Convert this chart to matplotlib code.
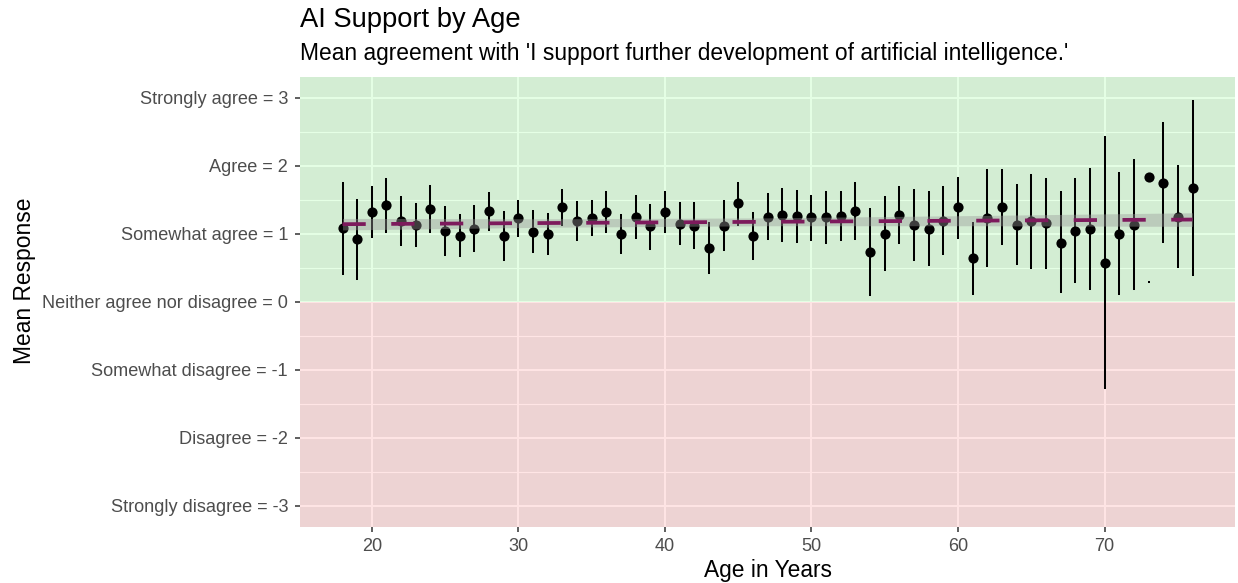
import matplotlib
matplotlib.use("Agg")
import matplotlib.pyplot as plt
import numpy as np

plt.rcParams["font.family"] = ["Liberation Sans", "DejaVu Sans"]

# mean response by age, with lower/upper interval ends
ages = list(range(18, 77))
means = [1.08, 0.92, 1.32, 1.42, 1.19, 1.13, 1.37, 1.04, 0.97, 1.07,
         1.33, 0.97, 1.23, 1.03, 1.00, 1.39, 1.19, 1.23, 1.32, 1.00,
         1.25, 1.11, 1.32, 1.15, 1.12, 0.79, 1.12, 1.45, 0.97, 1.25,
         1.27, 1.26, 1.24, 1.24, 1.26, 1.33, 0.73, 1.00, 1.27, 1.13,
         1.07, 1.19, 1.39, 0.64, 1.23, 1.39, 1.13, 1.18, 1.16, 0.87,
         1.04, 1.07, 0.57, 1.00, 1.13, 1.84, 1.75, 1.25, 1.67]
upper = [1.75, 1.50, 1.68, 1.80, 1.54, 1.44, 1.70, 1.40, 1.27, 1.41,
         1.60, 1.32, 1.48, 1.34, 1.29, 1.65, 1.47, 1.48, 1.61, 1.28,
         1.55, 1.42, 1.61, 1.45, 1.45, 1.16, 1.48, 1.75, 1.30, 1.59,
         1.66, 1.63, 1.56, 1.61, 1.61, 1.74, 1.37, 1.54, 1.68, 1.64,
         1.61, 1.68, 1.82, 1.16, 1.94, 1.94, 1.71, 1.86, 1.81, 1.61,
         1.81, 1.95, 2.42, 1.89, 2.08, 0.29, 2.63, 2.00, 2.95]
lower = [0.41, 0.33, 0.95, 1.02, 0.83, 0.82, 1.03, 0.69, 0.67, 0.74,
         1.05, 0.62, 0.97, 0.73, 0.70, 1.13, 0.90, 0.98, 1.02, 0.72,
         0.94, 0.78, 1.03, 0.85, 0.79, 0.42, 0.76, 1.13, 0.63, 0.92,
         0.89, 0.88, 0.91, 0.86, 0.91, 0.92, 0.10, 0.46, 0.86, 0.61,
         0.54, 0.70, 0.94, 0.12, 0.52, 0.85, 0.55, 0.49, 0.50, 0.14,
         0.29, 0.19, -1.27, 0.12, 0.18, 0.29, 0.88, 0.51, 0.39]

# linear fit and its confidence band
fit_ages = [18, 32, 47, 61, 76]
fit_mean = [1.14, 1.157, 1.175, 1.192, 1.208]
fit_lo = [1.055, 1.095, 1.117, 1.117, 1.108]
fit_hi = [1.225, 1.219, 1.233, 1.267, 1.308]

y_ticks = [3, 2, 1, 0, -1, -2, -3]
y_labels = ["Strongly agree = 3", "Agree = 2", "Somewhat agree = 1",
            "Neither agree nor disagree = 0", "Somewhat disagree = -1",
            "Disagree = -2", "Strongly disagree = -3"]
x_ticks = [20, 30, 40, 50, 60, 70]


def main():
    fig = plt.figure(figsize=(12.38, 5.83), dpi=100)
    ax = fig.add_axes([300 / 1238, 55.7 / 583, 935 / 1238, 450.6 / 583])
    ax.set_facecolor("#EBEBEB")
    for s in ax.spines.values():
        s.set_visible(False)

    ax.set_xlim(15.1, 78.9)
    ax.set_ylim(-3.32, 3.31)

    # grid (major + minor on y, major only on x)
    for y in np.arange(-3, 3.01, 0.5):
        lw = 1.4 if float(y).is_integer() else 0.9
        ax.axhline(y, color="white", linewidth=lw, zorder=0.5)
    for x in x_ticks:
        ax.axvline(x, color="white", linewidth=1.4, zorder=0.5)

    # agree / disagree shading
    ax.axhspan(0, 3.4, color="#00FF00", alpha=0.1, linewidth=0, zorder=1)
    ax.axhspan(-3.4, 0, color="#FF0000", alpha=0.1, linewidth=0, zorder=1)

    lo = np.array(lower)
    hi = np.array(upper)
    ax.errorbar(ages, (lo + hi) / 2, yerr=(hi - lo) / 2, fmt="none",
                ecolor="black", elinewidth=1.45, capsize=0.9, capthick=1.45,
                zorder=2)
    ax.scatter(ages, means, s=54, color="black", linewidths=0, zorder=3)

    ax.fill_between(fit_ages, fit_lo, fit_hi, color="#999999", alpha=0.4,
                    linewidth=0, zorder=4)
    ax.plot(fit_ages, fit_mean, color="#7D1A5C", linewidth=2.7,
            dashes=(6.2, 6.8), solid_capstyle="butt", dash_capstyle="butt",
            zorder=5)

    ax.set_xticks(x_ticks)
    ax.set_yticks(y_ticks)
    ax.set_yticklabels(y_labels)
    ax.tick_params(axis="both", colors="#333333", length=3.6, width=1.1,
                   labelsize=13.1, labelcolor="#4D4D4D")
    ax.tick_params(axis="y", pad=5)
    ax.tick_params(axis="x", pad=4)

    fig.text(300 / 1238, 1 - 26.7 / 583, "AI Support by Age", fontsize=19.7,
             ha="left", va="baseline", color="black")
    fig.text(300 / 1238, 1 - 60 / 583,
             "Mean agreement with 'I support further development of artificial intelligence.'",
             fontsize=16.4, ha="left", va="baseline", color="black")
    fig.text(767.5 / 1238, 1 - 576.7 / 583, "Age in Years", fontsize=16.4,
             ha="center", va="baseline", color="black")
    fig.text(25 / 1238, 302 / 583, "Mean Response", fontsize=16.4,
             rotation=90, ha="center", va="center", color="black")

    fig.savefig("out.png", dpi=100)
    plt.close(fig)


if __name__ == "__main__":
    main()
